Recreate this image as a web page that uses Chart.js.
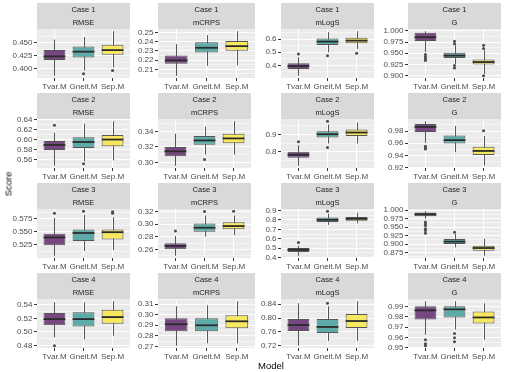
<!DOCTYPE html>
<html>
<head>
<meta charset="utf-8">
<script src="https://cdn.jsdelivr.net/npm/chart.js"></script>
<style>
  body { margin: 0; background: #fff; font-family: 'Liberation Sans', Arial, sans-serif; }
  #wrap { position: relative; width: 511px; height: 372px; overflow: hidden; }
  canvas { position: absolute; }
  .title { position: absolute; color: #000; font-size: 9.5px; font-weight: 400; white-space: nowrap; opacity: 0.99; }
</style>
</head>
<body>
<div id="wrap"></div>
<script>
const models = ['Tvar.M', 'Gneit.M', 'Sep.M'];
const cases = ['Case 1', 'Case 2', 'Case 3', 'Case 4'];
const metrics = ['RMSE', 'mCRPS', 'mLogS', 'G'];

// each box: [lower whisker, q1, median, q3, upper whisker]; one block of 3 models per case
const rmseBox = [
  [[0.387, 0.417, 0.424, 0.436, 0.456], [0.397, 0.422, 0.433, 0.443, 0.461], [0.403, 0.427, 0.436, 0.446, 0.472]],
  [[0.547, 0.579, 0.589, 0.597, 0.614], [0.556, 0.583, 0.595, 0.6045, 0.632], [0.558, 0.5865, 0.600, 0.609, 0.637]],
  [[0.504, 0.524, 0.539, 0.546, 0.576], [0.513, 0.532, 0.5475, 0.554, 0.582], [0.515, 0.535, 0.549, 0.554, 0.5775]],
  [[0.492, 0.510, 0.519, 0.528, 0.544], [0.489, 0.508, 0.519, 0.529, 0.544], [0.4945, 0.512, 0.522, 0.533, 0.5455]]
];
const rmseOut = [
  [[], [0.391], [0.397]],
  [[0.629], [0.551], []],
  [[0.585], [0.589], [0.585, 0.588]],
  [[0.4795], [], []]
];
const rmseTicks = [
  ['0.400', '0.425', '0.450'],
  ['0.56', '0.58', '0.60', '0.62', '0.64'],
  ['0.525', '0.550', '0.575'],
  ['0.48', '0.50', '0.52', '0.54']
];

const crpsBox = [
  [[0.203, 0.216, 0.2197, 0.225, 0.2374], [0.214, 0.2284, 0.2334, 0.2395, 0.2471], [0.2146, 0.2301, 0.2352, 0.2409, 0.2514]],
  [[0.2957, 0.3078, 0.3143, 0.320, 0.337], [0.310, 0.3226, 0.3283, 0.3339, 0.3461], [0.310, 0.3248, 0.3309, 0.337, 0.353]],
  [[0.2501, 0.2605, 0.2657, 0.2699, 0.2814], [0.2804, 0.2882, 0.2945, 0.3013, 0.3138], [0.283, 0.2919, 0.2971, 0.3033, 0.3138]],
  [[0.2705, 0.2843, 0.291, 0.2967, 0.3081], [0.2729, 0.2843, 0.290, 0.2967, 0.309], [0.2729, 0.2871, 0.2938, 0.2995, 0.3129]]
];
const crpsOut = [
  [[], [], []],
  [[], [0.3039], []],
  [[0.2892], [0.320], [0.3206]],
  [[], [], []]
];
const crpsTicks = [
  ['0.21', '0.22', '0.23', '0.24', '0.25'],
  ['0.30', '0.32', '0.34'],
  ['0.26', '0.28', '0.30', '0.32'],
  ['0.27', '0.28', '0.29', '0.30', '0.31']
];

const logsBox = [
  [[0.32, 0.3715, 0.3946, 0.4154, 0.4615], [0.50, 0.556, 0.5815, 0.6046, 0.654], [0.525, 0.569, 0.589, 0.612, 0.661]],
  [[0.7192, 0.7654, 0.7827, 0.800, 0.8385], [0.848, 0.8827, 0.9019, 0.919, 0.9577], [0.848, 0.892, 0.9115, 0.929, 0.969]],
  [[0.42, 0.461, 0.4845, 0.5014, 0.528], [0.748, 0.7784, 0.802, 0.8257, 0.8662], [0.765, 0.792, 0.812, 0.832, 0.876]],
  [[0.72, 0.7629, 0.78, 0.7971, 0.8429], [0.734, 0.7571, 0.7743, 0.7971, 0.834], [0.734, 0.7714, 0.7914, 0.8114, 0.8486]]
];
const logsOut = [
  [[0.487], [0.474], [0.492]],
  [[0.8577], [0.977, 0.825], []],
  [[0.562], [0.893], []],
  [[], [0.843], []]
];
const logsTicks = [
  ['0.4', '0.5', '0.6'],
  ['0.8', '0.9'],
  ['0.4', '0.5', '0.6', '0.7', '0.8', '0.9'],
  ['0.72', '0.76', '0.80', '0.84']
];

const gBox = [
  [[0.953, 0.9773, 0.9857, 0.9955, 0.999], [0.926, 0.9395, 0.9448, 0.951, 0.968], [0.904, 0.925, 0.9305, 0.9364, 0.9568]],
  [[0.9606, 0.9783, 0.9867, 0.9917, 0.9961], [0.945, 0.9594, 0.965, 0.9728, 0.9883], [0.9228, 0.9406, 0.9472, 0.9539, 0.9717]],
  [[0.975, 0.9821, 0.9881, 0.993, 0.997], [0.8909, 0.9008, 0.9077, 0.9157, 0.9306], [0.8661, 0.881, 0.8889, 0.8958, 0.9157]],
  [[0.9627, 0.9773, 0.9861, 0.990, 0.9949], [0.9676, 0.9793, 0.9871, 0.990, 0.9949], [0.9578, 0.9734, 0.9793, 0.9851, 0.9929]]
];
const gOut = [
  [[0.947, 0.942, 0.938, 0.934], [0.977, 0.9714, 0.9227, 0.9175], [0.968, 0.9607, 0.900]],
  [[0.955, 0.9522, 0.9506], [], [0.9806]],
  [[0.9653, 0.9603, 0.9554, 0.9454, 0.9405, 0.9325], [0.9355], []],
  [[0.9578, 0.9539, 0.952], [0.9637, 0.9598, 0.9559], []]
];
const gTicks = [
  ['0.900', '0.925', '0.950', '0.975', '1.000'],
  ['0.92', '0.94', '0.96', '0.98'],
  ['0.875', '0.900', '0.925', '0.950', '0.975', '1.000'],
  ['0.95', '0.96', '0.97', '0.98', '0.99']
];

const boxData = [rmseBox, crpsBox, logsBox, gBox];
const outData = [rmseOut, crpsOut, logsOut, gOut];
const tickData = [rmseTicks, crpsTicks, logsTicks, gTicks];

const fills = ['#764781', '#5daba8', '#f8e860'];
const lineCol = '#555555';
const medianCol = '#2b2b2b';
const colLeft = [37, 158, 281, 408];
const panelW = 97;
const axisW = 30;
const xAxisH = 14;
const stripH = 13;
const rowTop = [3, 93, 183, 273];
const plotH = 49;

Chart.defaults.font.family = "'Liberation Sans', Arial, sans-serif";

// grey panel background and the strip above it
const panelBg = {
  id: 'panelBg',
  beforeDraw(chart) {
    const a = chart.chartArea;
    const ctx = chart.ctx;
    ctx.save();
    ctx.fillStyle = '#d9d9d9';
    ctx.fillRect(a.left, 0, a.right - a.left, 2 * stripH);
    ctx.fillStyle = '#ebebeb';
    ctx.fillRect(a.left, a.top, a.right - a.left, a.bottom - a.top);
    ctx.restore();
  }
};

// whiskers behind the boxes, median bar on top of them
const boxPlugin = {
  id: 'boxes',
  beforeDatasetsDraw(chart, args, opts) {
    const { ctx, scales: { x, y } } = chart;
    ctx.save();
    ctx.strokeStyle = lineCol;
    ctx.lineWidth = 1;
    opts.stats.forEach((s, i) => {
      const px = Math.round(x.getPixelForValue(i + 1)) + 0.5;
      ctx.beginPath();
      ctx.moveTo(px, y.getPixelForValue(s[0]));
      ctx.lineTo(px, y.getPixelForValue(s[4]));
      ctx.stroke();
    });
    ctx.restore();
  },
  afterDatasetDraw(chart, args, opts) {
    if (args.index !== 0) return;
    const { ctx, scales: { y } } = chart;
    ctx.save();
    ctx.strokeStyle = medianCol;
    ctx.lineWidth = 1.8;
    args.meta.data.forEach((bar, i) => {
      const py = y.getPixelForValue(opts.stats[i][2]);
      ctx.beginPath();
      ctx.moveTo(bar.x - bar.width / 2, py);
      ctx.lineTo(bar.x + bar.width / 2, py);
      ctx.stroke();
    });
    ctx.restore();
  }
};

function buildTicks(labels, min, max) {
  const major = labels.map(Number);
  const half = (major[1] - major[0]) / 2;
  const out = [];
  for (let k = -1; k <= 2 * (major.length - 1) + 1; k++) {
    const v = major[0] + k * half;
    if (v < min || v > max) continue;
    const isMajor = k >= 0 && k % 2 === 0 && k / 2 < major.length;
    out.push({ value: v, isMajor, text: isMajor ? labels[k / 2] : '' });
  }
  return out;
}

function stripText(text) {
  return {
    display: true,
    text: text,
    fullSize: false,
    color: '#1a1a1a',
    font: { size: 7.5, weight: 'normal', lineHeight: 1.2 },
    padding: { top: 2, bottom: 2 }
  };
}

function makePanel(row, col) {
  const box = boxData[col][row];
  const outs = outData[col][row];
  const labels = tickData[col][row];

  const all = box.flat().concat(outs.flat());
  const lo = Math.min(...all), hi = Math.max(...all);
  const pad = (hi - lo) * 0.05;
  const yMin = lo - pad, yMax = hi + pad;
  const ticks = buildTicks(labels, yMin, yMax);

  const canvas = document.createElement('canvas');
  canvas.width = axisW + panelW;
  canvas.height = 2 * stripH + plotH + xAxisH;
  canvas.style.left = (colLeft[col] - axisW) + 'px';
  canvas.style.top = rowTop[row] + 'px';
  document.getElementById('wrap').appendChild(canvas);

  const outPoints = [];
  outs.forEach((list, i) => list.forEach(v => outPoints.push({ x: i + 1, y: v })));

  new Chart(canvas, {
    type: 'bar',
    data: {
      datasets: [
        {
          data: box.map((s, i) => ({ x: i + 1, y: [s[1], s[3]] })),
          backgroundColor: fills,
          borderColor: lineCol,
          borderWidth: 1,
          borderSkipped: false,
          categoryPercentage: 1,
          barPercentage: 0.75
        },
        {
          type: 'scatter',
          data: outPoints,
          pointRadius: 1.5,
          pointBackgroundColor: '#4a4a4a',
          pointBorderWidth: 0
        }
      ]
    },
    options: {
      responsive: false,
      animation: false,
      devicePixelRatio: 1,
      layout: { padding: 0 },
      events: [],
      plugins: {
        legend: { display: false },
        tooltip: { enabled: false },
        title: stripText(cases[row]),
        subtitle: stripText(metrics[col]),
        boxes: { stats: box }
      },
      scales: {
        x: {
          type: 'linear',
          min: 0.4,
          max: 3.6,
          offset: false,
          afterBuildTicks: s => { s.ticks = models.map((m, i) => ({ value: i + 1 })); },
          afterFit: s => { s.height = xAxisH; s.paddingLeft = 0; s.paddingRight = 0; },
          ticks: {
            callback: v => models[v - 1],
            color: '#4d4d4d',
            font: { size: 8 },
            padding: 1,
            maxRotation: 0,
            autoSkip: false
          },
          grid: { color: '#ffffff', lineWidth: 1, offset: false, tickColor: '#333333', tickLength: 3 },
          border: { display: false }
        },
        y: {
          type: 'linear',
          min: yMin,
          max: yMax,
          bounds: 'data',
          afterBuildTicks: s => { s.ticks = ticks.map(t => Object.assign({}, t)); },
          afterFit: s => { s.width = axisW; s.paddingTop = 0; s.paddingBottom = 0; },
          ticks: {
            callback: (v, i, t) => t[i].text,
            color: '#4d4d4d',
            font: { size: 8 },
            padding: 1.5,
            autoSkip: false
          },
          grid: {
            color: '#ffffff',
            lineWidth: c => (c.tick && c.tick.isMajor ? 1 : 0.5),
            tickColor: c => (c.tick && c.tick.isMajor ? '#333333' : 'rgba(0,0,0,0)'),
            tickLength: 3
          },
          border: { display: false }
        }
      }
    },
    plugins: [panelBg, boxPlugin]
  });
}

for (let r = 0; r < cases.length; r++) {
  for (let c = 0; c < metrics.length; c++) makePanel(r, c);
}

const wrap = document.getElementById('wrap');
const yTitle = document.createElement('div');
yTitle.className = 'title';
yTitle.textContent = 'Score';
yTitle.style.left = '8px';
yTitle.style.top = '184px';
yTitle.style.transform = 'translate(-50%, -50%) rotate(-90deg)';
wrap.appendChild(yTitle);

const xTitle = document.createElement('div');
xTitle.className = 'title';
xTitle.textContent = 'Model';
xTitle.style.left = '271px';
xTitle.style.top = '365px';
xTitle.style.transform = 'translate(-50%, -50%)';
wrap.appendChild(xTitle);
</script>
</body>
</html>
